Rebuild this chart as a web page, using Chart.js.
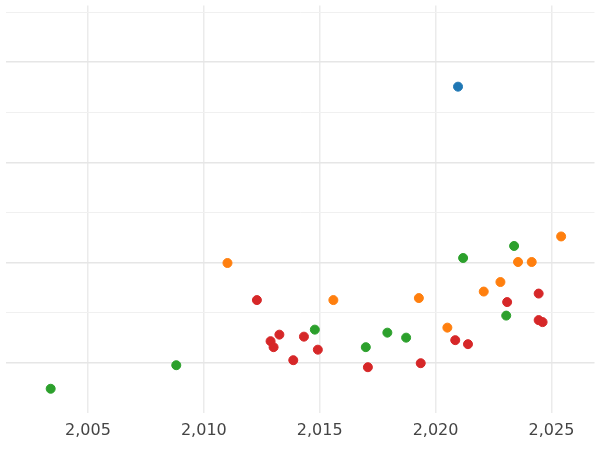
<!DOCTYPE html>
<html><head><meta charset="utf-8">
<script src="https://cdn.jsdelivr.net/npm/chart.js@4"></script>
<style>body{margin:0;background:#fff}#wrap{width:600px;height:450px}</style>
</head><body><div id="wrap"><canvas id="c"></canvas></div>
<script>
const blueX = [2020.97];
const blueY = [6.51];
const greenX = [2003.39, 2008.81, 2014.79, 2016.99, 2017.92, 2018.73, 2021.19, 2023.39, 2023.05];
const greenY = [0.48, 0.95, 1.66, 1.31, 1.6, 1.5, 3.09, 3.33, 1.94];
const orangeX = [2011.02, 2015.59, 2019.28, 2020.51, 2022.08, 2022.8, 2023.56, 2024.15, 2025.42];
const orangeY = [2.99, 2.25, 2.29, 1.7, 2.42, 2.61, 3.01, 3.01, 3.52];
const redX = [2012.29, 2012.88, 2013.01, 2013.26, 2013.86, 2014.32, 2014.92, 2017.08, 2019.36, 2020.85, 2021.4, 2023.09, 2024.45, 2024.45, 2024.62];
const redY = [2.25, 1.43, 1.31, 1.56, 1.05, 1.52, 1.26, 0.91, 0.99, 1.45, 1.37, 2.21, 2.38, 1.85, 1.81];

const pts = (xs, ys) => xs.map((x, i) => ({ x: x, y: ys[i] }));
const mk = (xs, ys, col) => ({
    data: pts(xs, ys),
    backgroundColor: col,
    borderColor: col,
    pointRadius: 4.5,
    pointHoverRadius: 4.5,
});

new Chart(document.getElementById("c"), {
    type: "scatter",
    data: {
        datasets: [
            mk(redX, redY, "#d62728"),
            mk(orangeX, orangeY, "#ff7f0e"),
            mk(greenX, greenY, "#2ca02c"),
            mk(blueX, blueY, "#1f77b4"),
        ],
    },
    options: {
        responsive: true,
        maintainAspectRatio: false,
        animation: false,
        layout: { padding: { left: -6, right: -6, top: -6, bottom: 2 } },
        plugins: { legend: { display: false }, tooltip: { enabled: false } },
        scales: {
            x: {
                min: 2001.44,
                max: 2026.86,
                border: { display: false },
                ticks: {
                    stepSize: 5,
                    autoSkip: false,
                    padding: 8,
                    color: "#444",
                    font: { family: "DejaVu Sans", size: 16 },
                },
                afterBuildTicks: (a) => {
                    a.ticks = [];
                    for (let v = 2005; v <= 2026.86; v += 5) a.ticks.push({ value: v });
                },
                grid: { color: "#ebebeb", lineWidth: 1.5, drawTicks: false },
            },
            y: {
                min: 0,
                max: 8.13,
                border: { display: false },
                ticks: { display: false, stepSize: 1 },
                afterBuildTicks: (a) => {
                    a.ticks = [];
                    for (let v = 1; v <= 8; v++) a.ticks.push({ value: v });
                },
                grid: {
                    color: (c) => (c.tick && c.tick.value % 2 === 0 ? "#f0f0f0" : "#e6e6e6"),
                    lineWidth: (c) => (c.tick && c.tick.value % 2 === 0 ? 1 : 1.5),
                    drawTicks: false,
                },
            },
        },
    },
});
</script></body></html>
